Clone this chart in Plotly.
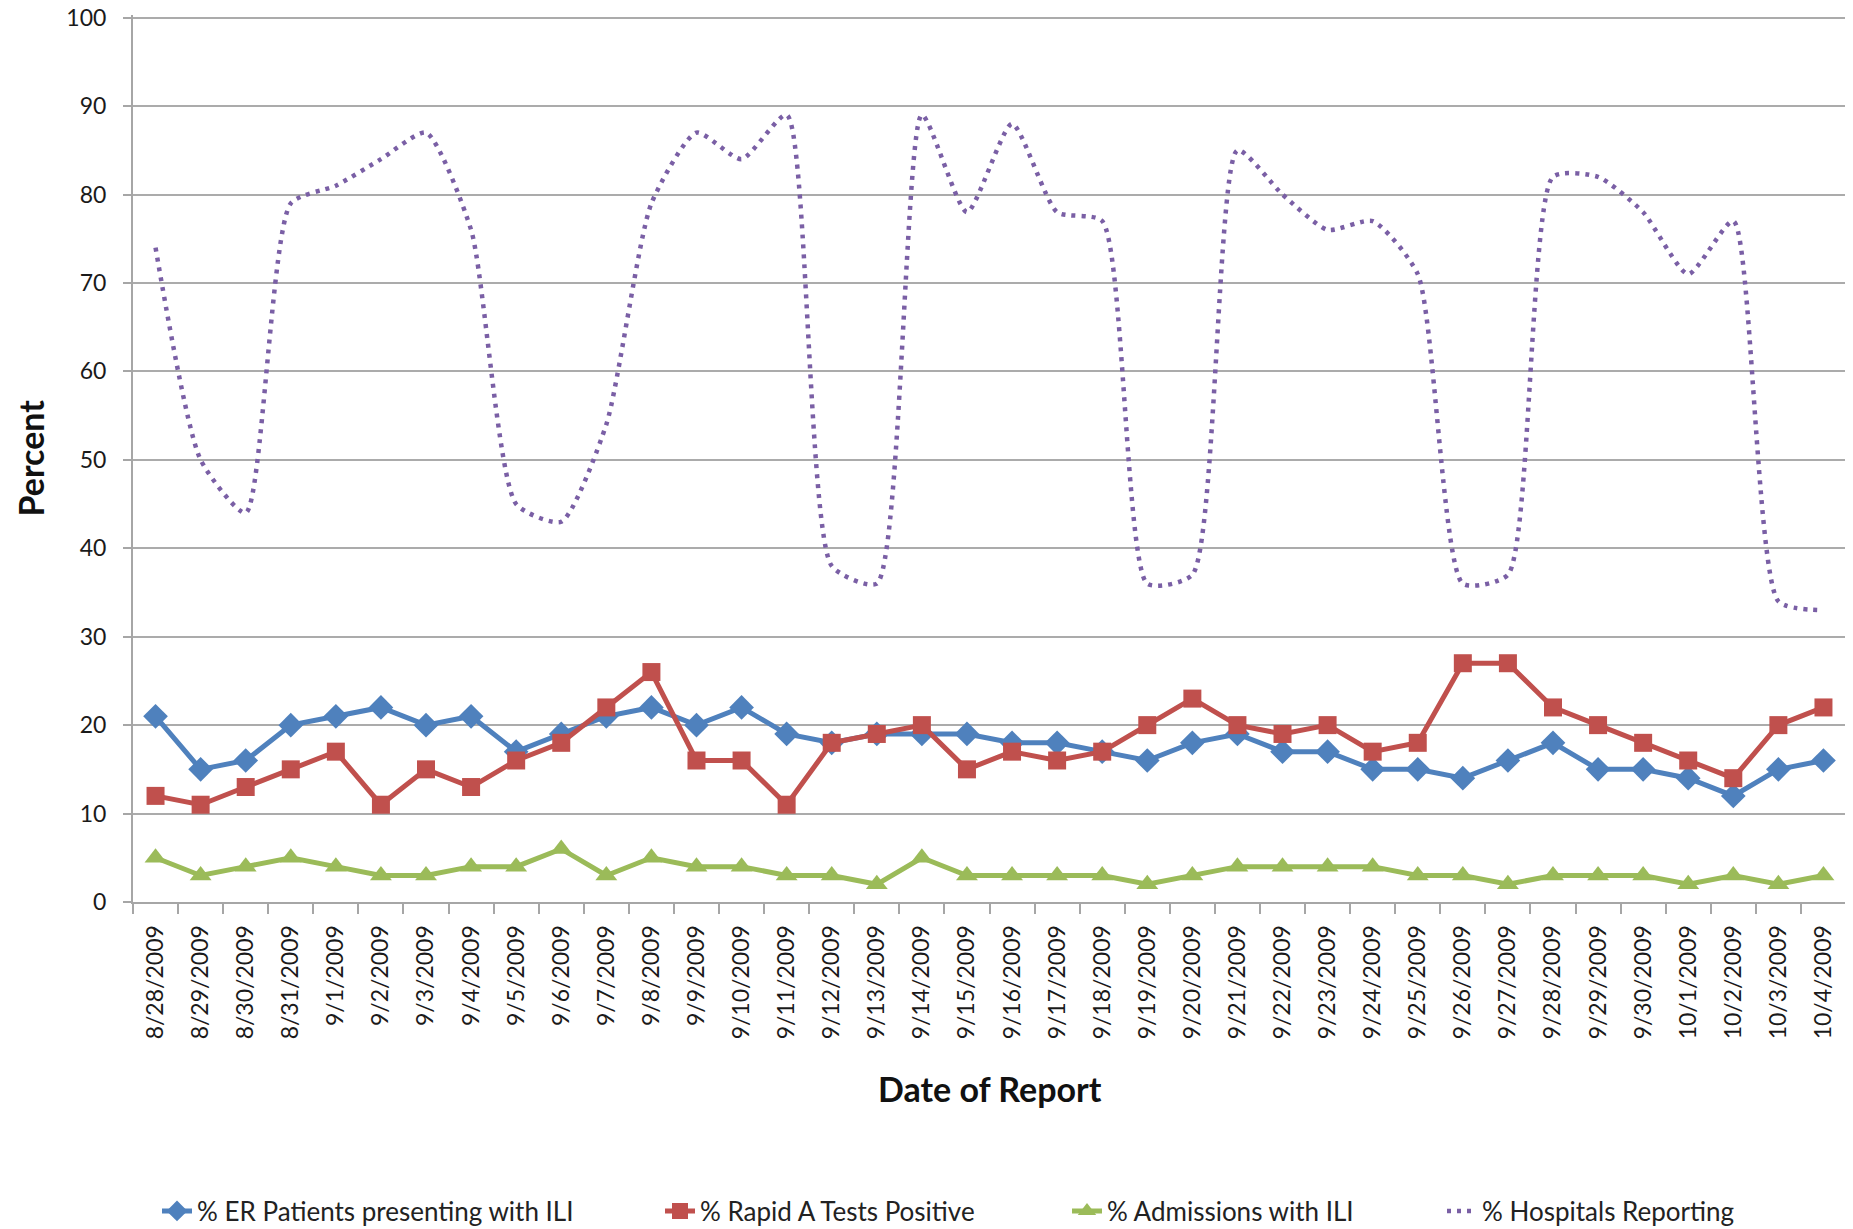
import plotly.graph_objects as go

dates = ["8/28/2009", "8/29/2009", "8/30/2009", "8/31/2009", "9/1/2009", "9/2/2009",
         "9/3/2009", "9/4/2009", "9/5/2009", "9/6/2009", "9/7/2009", "9/8/2009",
         "9/9/2009", "9/10/2009", "9/11/2009", "9/12/2009", "9/13/2009", "9/14/2009",
         "9/15/2009", "9/16/2009", "9/17/2009", "9/18/2009", "9/19/2009", "9/20/2009",
         "9/21/2009", "9/22/2009", "9/23/2009", "9/24/2009", "9/25/2009", "9/26/2009",
         "9/27/2009", "9/28/2009", "9/29/2009", "9/30/2009", "10/1/2009", "10/2/2009",
         "10/3/2009", "10/4/2009"]

er_ili = [21, 15, 16, 20, 21, 22, 20, 21, 17, 19, 21, 22, 20, 22, 19, 18, 19, 19,
          19, 18, 18, 17, 16, 18, 19, 17, 17, 15, 15, 14, 16, 18, 15, 15, 14, 12, 15, 16]
rapid_a = [12, 11, 13, 15, 17, 11, 15, 13, 16, 18, 22, 26, 16, 16, 11, 18, 19, 20,
           15, 17, 16, 17, 20, 23, 20, 19, 20, 17, 18, 27, 27, 22, 20, 18, 16, 14, 20, 22]
admissions = [5, 3, 4, 5, 4, 3, 3, 4, 4, 6, 3, 5, 4, 4, 3, 3, 2, 5,
              3, 3, 3, 3, 2, 3, 4, 4, 4, 4, 3, 3, 2, 3, 3, 3, 2, 3, 2, 3]
hospitals = [74, 50, 44, 79, 81, 84, 87, 76, 45, 43, 54, 79, 87, 84, 89, 38, 36, 89,
             78, 88, 78, 77, 36, 37, 85, 80, 76, 77, 71, 36, 37, 82, 82, 78, 71, 77, 34, 33]

y_ticks = [0, 10, 20, 30, 40, 50, 60, 70, 80, 90, 100]

FONT = "Lato, 'Open Sans', sans-serif"
W, H = 1853, 1229
# page body adds an 8px offset; layout coordinates below compensate for it
ML, MR, MT, MB = 125, 15, 7, 335
PW, PH = W - ML - MR, H - MT - MB

fig = go.Figure()
fig.add_trace(go.Scatter(
    x=dates, y=er_ili, name="% ER Patients presenting with ILI",
    mode="lines+markers", legend="legend",
    line=dict(color="#4F81BD", width=5),
    marker=dict(symbol="diamond", size=19, color="#4F81BD"),
))
fig.add_trace(go.Scatter(
    x=dates, y=rapid_a, name="% Rapid A Tests Positive",
    mode="lines+markers", legend="legend2",
    line=dict(color="#C0504D", width=5),
    marker=dict(symbol="square", size=18, color="#C0504D"),
))
fig.add_trace(go.Scatter(
    x=dates, y=admissions, name="% Admissions with ILI",
    mode="lines+markers", legend="legend3",
    line=dict(color="#9BBB59", width=5),
    marker=dict(symbol="triangle-up", size=19, color="#9BBB59"),
))
fig.add_trace(go.Scatter(
    x=dates, y=hospitals, name="% Hospitals Reporting",
    mode="lines", legend="legend4",
    line=dict(color="#7A5FA5", width=4.5, dash="4px,6px", shape="spline", smoothing=0.6),
))

leg_common = dict(orientation="h", xref="container", yref="container",
                  xanchor="left", y=1 - 1203 / H, yanchor="middle",
                  font=dict(family=FONT, size=26, color="#222222"),
                  bgcolor="rgba(0,0,0,0)")
leg_x = [149, 652, 1059, 1434]

fig.update_layout(
    width=W, height=H,
    margin=dict(l=ML, r=MR, t=MT, b=MB),
    paper_bgcolor="white", plot_bgcolor="white",
    font=dict(family=FONT, color="#222222"),
    showlegend=True,
    legend=dict(x=leg_x[0] / W, **leg_common),
    legend2=dict(x=leg_x[1] / W, **leg_common),
    legend3=dict(x=leg_x[2] / W, **leg_common),
    legend4=dict(x=leg_x[3] / W, **leg_common),
    xaxis=dict(
        type="category", range=[-0.5, 37.5], automargin=False,
        tickangle=-90, tickfont=dict(size=23, color="#1A1A1A"),
        ticks="outside", tickson="boundaries", ticklen=10, tickcolor="#A6A6A6", tickwidth=2,
        showline=True, linecolor="#A6A6A6", linewidth=2,
        showgrid=False, ticklabelstandoff=12, ticklabeloverflow="allow",
    ),
    yaxis=dict(
        range=[0, 100.3], tickvals=y_ticks, automargin=False,
        tickfont=dict(size=23, color="#1A1A1A"),
        ticks="outside", ticklen=8, tickcolor="#A6A6A6", tickwidth=2,
        showline=True, linecolor="#A6A6A6", linewidth=2,
        showgrid=True, gridcolor="#ABABAB", gridwidth=2, zeroline=False,
        ticklabelstandoff=12, ticklabeloverflow="allow",
    ),
    annotations=[
        dict(text="<b>Date of Report</b>", xref="paper", yref="paper",
             x=0.5, y=((H - MB) - 1080) / PH, xanchor="center", yanchor="middle",
             showarrow=False, font=dict(family=FONT, size=34, color="#111111")),
        dict(text="<b>Percent</b>", xref="paper", yref="paper",
             x=(22 - ML) / PW, y=0.5, xanchor="center", yanchor="middle", textangle=-90,
             showarrow=False, font=dict(family=FONT, size=34, color="#111111")),
    ],
)

fig.write_html("out.html")
